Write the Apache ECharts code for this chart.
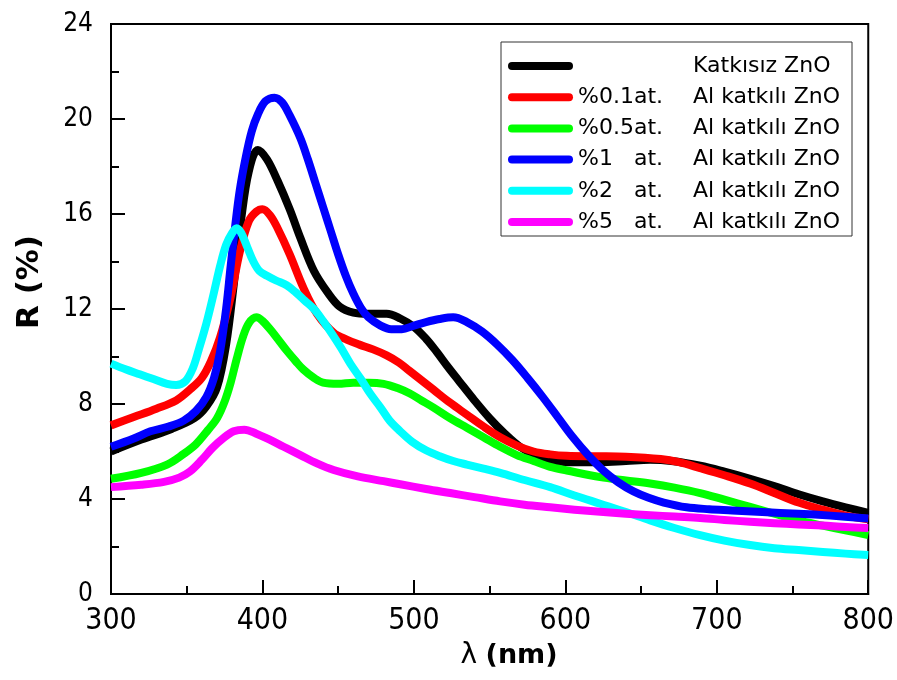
<!DOCTYPE html>
<html>
<head>
<meta charset="utf-8">
<title>R (%) - λ (nm)</title>
<script src="https://cdn.jsdelivr.net/npm/echarts@6.0.0/dist/echarts.min.js"></script>
<style>
  html, body { margin: 0; padding: 0; background: #ffffff; }
  #chart { width: 897px; height: 680px; }
</style>
</head>
<body>
<div id="chart"></div>
<script>
// Reflectance spectra, [wavelength (nm), R (%)]
const undoped = [
  [300, 6.0], [320, 6.5], [340, 6.95], [355, 7.4], [363, 7.9], [370, 8.7], [376, 10.5],
  [381, 13.0], [386, 15.8], [391, 17.8], [397, 18.7], [403, 18.3], [410, 17.4], [418, 16.2],
  [425, 15.0], [434, 13.6], [443, 12.7], [451, 12.1], [460, 11.85], [470, 11.8], [482, 11.8],
  [491, 11.6], [500, 11.25], [508, 10.75], [515, 10.2], [522, 9.6], [530, 8.95], [540, 8.15],
  [550, 7.4], [560, 6.75], [570, 6.2], [580, 5.85], [590, 5.65], [601, 5.55], [623, 5.55],
  [640, 5.6], [656, 5.65], [670, 5.6], [689, 5.4], [705, 5.15], [722, 4.85], [740, 4.5],
  [754, 4.2], [770, 3.9], [785, 3.65], [800, 3.42]
];
const al01 = [
  [300, 7.1], [315, 7.45], [330, 7.8], [343, 8.15], [352, 8.6], [360, 9.1], [366, 9.8],
  [372, 10.8], [379, 12.5], [385, 14.4], [391, 15.7], [396, 16.1], [400, 16.2], [405, 15.95],
  [410, 15.4], [418, 14.3], [427, 12.9], [436, 11.8], [447, 11.0], [456, 10.7], [464, 10.5],
  [473, 10.3], [482, 10.05], [490, 9.75], [497, 9.4], [505, 9.0], [513, 8.6], [524, 8.05],
  [535, 7.55], [546, 7.05], [557, 6.6], [568, 6.25], [579, 6.0], [590, 5.88], [601, 5.82],
  [620, 5.8], [640, 5.78], [663, 5.68], [675, 5.55], [689, 5.3], [705, 5.0], [722, 4.65],
  [740, 4.2], [754, 3.85], [770, 3.55], [785, 3.3], [800, 3.15]
];
const al05 = [
  [300, 4.85], [320, 5.1], [337, 5.45], [348, 5.9], [356, 6.3], [364, 6.9], [370, 7.4],
  [375, 8.1], [379, 8.9], [383, 9.9], [387, 10.8], [391, 11.4], [396, 11.65], [400, 11.5],
  [405, 11.15], [410, 10.75], [416, 10.25], [422, 9.8], [427, 9.45], [434, 9.1], [440, 8.9],
  [450, 8.85], [460, 8.9], [470, 8.9], [480, 8.85], [490, 8.65], [497, 8.45], [505, 8.15],
  [513, 7.85], [524, 7.4], [535, 7.0], [546, 6.6], [557, 6.2], [568, 5.85], [579, 5.6],
  [590, 5.35], [601, 5.2], [623, 4.92], [640, 4.78], [656, 4.65], [672, 4.48], [689, 4.25],
  [705, 3.97], [722, 3.67], [738, 3.38], [754, 3.1], [770, 2.88], [785, 2.68], [800, 2.48]
];
const al1 = [
  [300, 6.2], [315, 6.55], [326, 6.85], [338, 7.05], [348, 7.3], [356, 7.7], [363, 8.3],
  [368, 9.1], [372, 10.2], [376, 12.0], [379, 13.8], [382, 15.5], [385, 17.0], [389, 18.4],
  [393, 19.5], [397, 20.2], [402, 20.75], [408, 20.9], [413, 20.7], [418, 20.15], [425, 19.2],
  [430, 18.3], [435, 17.3], [440, 16.3], [445, 15.3], [450, 14.3], [455, 13.4], [460, 12.65],
  [465, 12.05], [470, 11.65], [478, 11.3], [485, 11.15], [492, 11.15], [500, 11.3], [508, 11.45],
  [517, 11.58], [526, 11.65], [535, 11.45], [545, 11.05], [555, 10.5], [565, 9.85], [575, 9.1],
  [585, 8.3], [595, 7.45], [605, 6.6], [615, 5.85], [625, 5.2], [635, 4.7], [645, 4.32],
  [655, 4.05], [665, 3.85], [680, 3.65], [695, 3.57], [710, 3.52], [730, 3.45], [754, 3.38],
  [775, 3.3], [800, 3.18]
];
const al2 = [
  [300, 9.7], [310, 9.45], [319, 9.25], [328, 9.05], [337, 8.85], [343, 8.8], [349, 8.95],
  [354, 9.5], [358, 10.3], [363, 11.4], [368, 12.7], [372, 13.8], [376, 14.7], [380, 15.2],
  [383, 15.4], [386, 15.2], [390, 14.6], [394, 14.0], [398, 13.6], [403, 13.4], [409, 13.2],
  [416, 13.0], [422, 12.7], [428, 12.35], [434, 12.0], [440, 11.5], [446, 10.95], [452, 10.35],
  [458, 9.7], [465, 9.05], [471, 8.45], [478, 7.85], [484, 7.3], [491, 6.85], [499, 6.4],
  [508, 6.05], [517, 5.8], [526, 5.6], [535, 5.45], [546, 5.28], [557, 5.1], [573, 4.8],
  [590, 4.5], [606, 4.15], [623, 3.8], [640, 3.45], [656, 3.1], [672, 2.78], [689, 2.48],
  [705, 2.25], [722, 2.06], [738, 1.93], [754, 1.85], [770, 1.77], [785, 1.7], [800, 1.64]
];
const al5 = [
  [300, 4.5], [320, 4.6], [335, 4.72], [345, 4.9], [352, 5.15], [360, 5.65], [367, 6.15],
  [374, 6.55], [381, 6.85], [388, 6.92], [396, 6.75], [403, 6.55], [414, 6.2], [425, 5.85],
  [436, 5.5], [447, 5.22], [463, 4.95], [480, 4.75], [491, 4.62], [508, 4.42], [524, 4.25],
  [540, 4.08], [557, 3.9], [573, 3.76], [590, 3.65], [606, 3.55], [623, 3.46], [640, 3.38],
  [656, 3.32], [672, 3.26], [689, 3.2], [705, 3.12], [722, 3.04], [738, 2.98], [754, 2.93],
  [770, 2.88], [785, 2.82], [800, 2.78]
];

// Legend text columns
const dopingLevels = ['', '%0.1', '%0.5', '%1', '%2', '%5'];
const dopingUnits = ['', 'at.', 'at.', 'at.', 'at.', 'at.'];
const sampleNames = ['Katkısız ZnO', 'Al katkılı ZnO', 'Al katkılı ZnO', 'Al katkılı ZnO', 'Al katkılı ZnO', 'Al katkılı ZnO'];
const lineColors = ['#000000', '#ff0000', '#00ff00', '#0000ff', '#00ffff', '#ff00ff'];
const seriesData = [undoped, al01, al05, al1, al2, al5];

// Axis ticks
const xTicks = { min: 300, max: 800, step: 100 };
const yTicks = { min: 0, max: 24, step: 4 };

const tickFont = "'DejaVu Sans Condensed', 'DejaVu Sans', sans-serif";
const textFont = "'DejaVu Sans', Verdana, sans-serif";

const seriesNames = sampleNames.map((n, i) =>
  (dopingLevels[i] ? dopingLevels[i] + dopingUnits[i] + ' ' : '') + n);

const legendRows = {};
seriesNames.forEach((name, i) => {
  legendRows[name] = '{p|' + (dopingLevels[i] || '\u00a0') + '}{q|' + (dopingUnits[i] || '\u00a0') + '}{d|' + sampleNames[i] + '}';
});

const chart = echarts.init(document.getElementById('chart'), null, { renderer: 'canvas' });

const richCell = { fontFamily: textFont, fontSize: 22, color: '#000', lineHeight: 26 };

chart.setOption({
  animation: false,
  backgroundColor: '#ffffff',
  grid: {
    left: 111, right: 28, top: 24, bottom: 86,
    show: true, borderColor: '#000', borderWidth: 2, backgroundColor: 'transparent'
  },
  legend: {
    orient: 'vertical',
    left: 501, top: 42,
    padding: [11, 8, 1, 7],
    itemGap: 5.2,
    itemWidth: 65, itemHeight: 8,
    icon: 'path://M4 0H61A4 4 0 0 1 61 8H4A4 4 0 0 1 4 0Z',
    borderColor: '#333', borderWidth: 1,
    backgroundColor: '#ffffff',
    selectedMode: false,
    data: seriesNames,
    formatter: name => legendRows[name],
    textStyle: {
      fontFamily: textFont, fontSize: 22, color: '#000', lineHeight: 26,
      rich: {
        p: Object.assign({ width: 56 }, richCell),
        q: Object.assign({ width: 59 }, richCell),
        d: Object.assign({ width: 151 }, richCell)
      }
    }
  },
  xAxis: {
    type: 'value',
    min: xTicks.min, max: xTicks.max, interval: xTicks.step,
    axisLine: { show: true, onZero: false, lineStyle: { color: '#000', width: 2 } },
    axisTick: { show: true, inside: true, length: 14, lineStyle: { color: '#000', width: 2 } },
    minorTick: { show: true, splitNumber: 2, length: 8, lineStyle: { color: '#000', width: 2 } },
    splitLine: { show: false },
    axisLabel: { margin: 12, fontFamily: tickFont, fontSize: 30, color: '#000' }
  },
  yAxis: {
    type: 'value',
    min: yTicks.min, max: yTicks.max, interval: yTicks.step,
    axisLine: { show: true, onZero: false, lineStyle: { color: '#000', width: 2 } },
    axisTick: { show: true, inside: true, length: 14, lineStyle: { color: '#000', width: 2 } },
    minorTick: { show: true, splitNumber: 2, length: 8, lineStyle: { color: '#000', width: 2 } },
    splitLine: { show: false },
    axisLabel: { margin: 18, fontFamily: tickFont, fontSize: 26, color: '#000' }
  },
  graphic: [
    {
      type: 'text', x: 29.5, y: 282, rotation: Math.PI / 2,
      style: {
        text: 'R (%)', x: 0, y: 0, align: 'center', verticalAlign: 'middle',
        fontFamily: textFont, fontWeight: 'bold', fontSize: 31, fill: '#000'
      }
    },
    {
      type: 'text', x: 509, y: 656,
      style: {
        text: '{l|λ} {n|(nm)}', x: 0, y: 0, align: 'center', verticalAlign: 'middle',
        rich: {
          l: { fontFamily: textFont, fontSize: 28, color: '#000' },
          n: { fontFamily: textFont, fontSize: 27, fontWeight: 'bold', color: '#000' }
        },
        fontFamily: textFont, fontSize: 27, fill: '#000'
      }
    }
  ],
  series: seriesData.map((d, i) => ({
    name: seriesNames[i],
    type: 'line',
    data: d,
    smooth: 0.35,
    symbol: 'none',
    showSymbol: false,
    color: lineColors[i],
    lineStyle: { color: lineColors[i], width: 8, join: 'round', cap: 'butt' },
    itemStyle: { color: lineColors[i] },
    z: 2 + i
  }))
});
</script>
</body>
</html>
